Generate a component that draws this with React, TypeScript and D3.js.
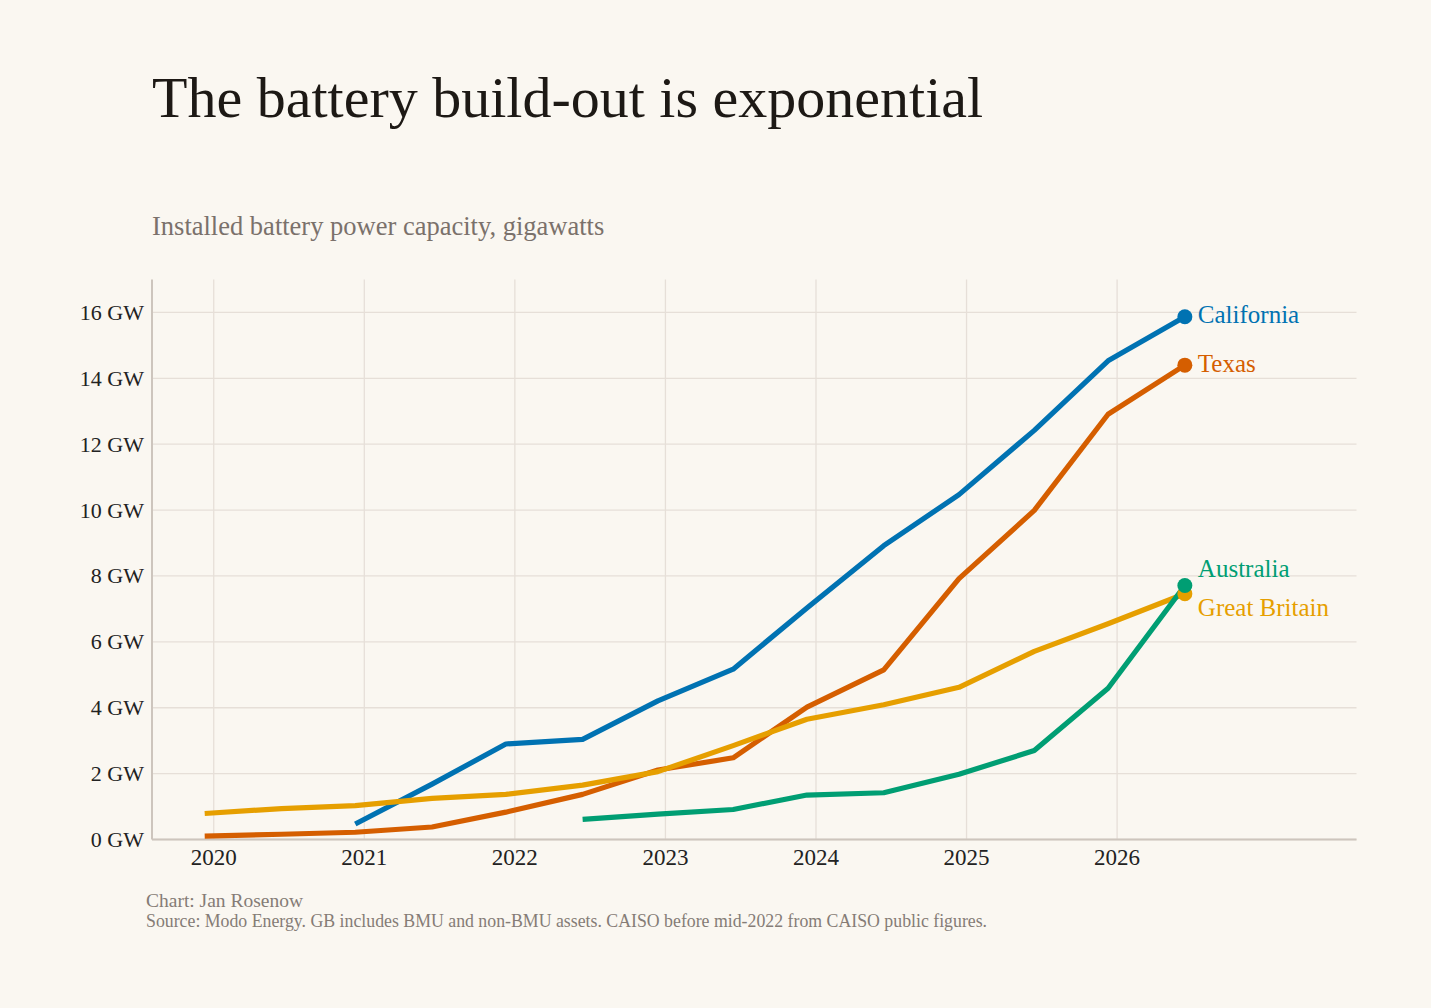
import React from "react";
import * as d3 from "d3";

// half-year observation points (fractional year)
const periods = [
  2019.94, 2020.45, 2020.94, 2021.45, 2021.94, 2022.45, 2022.95,
  2023.45, 2023.94, 2024.45, 2024.95, 2025.45, 2025.94, 2026.45,
];

// installed battery power, GW (null = no data)
const california = [null, null, 0.47, 1.68, 2.9, 3.04, 4.21, 5.17, 7.03, 8.92, 10.47, 12.42, 14.53, 15.87];
const texas = [0.1, 0.16, 0.22, 0.38, 0.83, 1.37, 2.11, 2.48, 4.02, 5.15, 7.92, 9.99, 12.91, 14.4];
const greatBritain = [0.79, 0.94, 1.03, 1.25, 1.37, 1.65, 2.06, 2.85, 3.65, 4.09, 4.62, 5.71, 6.55, 7.46];
const australia = [null, null, null, null, null, 0.61, 0.77, 0.91, 1.35, 1.42, 1.98, 2.7, 4.59, 7.71];

const seriesNames = ["California", "Texas", "Great Britain", "Australia"];
const seriesValues = [california, texas, greatBritain, australia];
const seriesColors = ["#0072b2", "#d55e00", "#e69f00", "#009e73"];
const labelOffsets = [6, 7, 22, -9];

const yTicks = [0, 2, 4, 6, 8, 10, 12, 14, 16];
const xTicks = [2020, 2021, 2022, 2023, 2024, 2025, 2026];

const W = 1431;
const H = 1008;
const FONT = "'Liberation Serif', 'DejaVu Serif', serif";

export default function App() {
  React.useEffect(() => {
    document.body.style.margin = "0";
    document.body.style.background = "#faf7f1";
  }, []);

  const margin = { left: 152, right: 1356.5, top: 279.5, bottom: 839.5 };

  const x = d3.scaleLinear().domain([2019.59, 2027.59]).range([margin.left, margin.right]);
  const y = d3.scaleLinear().domain([0, 17]).range([margin.bottom, margin.top]);

  const line = d3
    .line<[number, number | null]>()
    .defined((d) => d[1] != null)
    .x((d) => x(d[0]))
    .y((d) => y(d[1] as number));

  return (
    <svg width={W} height={H} style={{ display: "block", background: "#faf7f1", fontFamily: FONT }}>
      <rect width={W} height={H} fill="#faf7f1" />

      {/* title block */}
      <text x={152} y={117} fontSize={58} fill="#1d1915">
        The battery build-out is exponential
      </text>
      <text x={152} y={235} fontSize={26.5} fill="#7a716b">
        Installed battery power capacity, gigawatts
      </text>

      {/* grid */}
      {xTicks.map((t) => (
        <line key={"gx" + t} x1={x(t)} x2={x(t)} y1={margin.top} y2={margin.bottom} stroke="#e6dfd8" strokeWidth={1.3} />
      ))}
      {yTicks.map((t) => (
        <line key={"gy" + t} x1={margin.left} x2={margin.right} y1={y(t)} y2={y(t)} stroke="#e6dfd8" strokeWidth={1.3} />
      ))}

      {/* axes */}
      <line x1={margin.left} x2={margin.left} y1={margin.top} y2={margin.bottom} stroke="#cdc5bd" strokeWidth={2} />
      <line x1={margin.left} x2={margin.right} y1={margin.bottom} y2={margin.bottom} stroke="#cdc5bd" strokeWidth={2} />

      {yTicks.map((t) => (
        <text key={"ty" + t} x={144} y={y(t)} dy="0.34em" textAnchor="end" fontSize={22} fill="#222">
          {`${t} GW`}
        </text>
      ))}
      {xTicks.map((t) => (
        <text key={"tx" + t} x={x(t)} y={865} textAnchor="middle" fontSize={23} fill="#222">
          {t}
        </text>
      ))}

      {/* series */}
      {seriesValues.map((vals, i) => {
        const pts = periods.map((p, j) => [p, vals[j]] as [number, number | null]);
        return (
          <path
            key={seriesNames[i]}
            d={line(pts) || ""}
            fill="none"
            stroke={seriesColors[i]}
            strokeWidth={5.2}
            strokeLinejoin="round"
          />
        );
      })}

      {/* end dots + labels */}
      {seriesValues.map((vals, i) => {
        const last = vals.length - 1;
        const cx = x(periods[last]);
        const cy = y(vals[last] as number);
        return (
          <g key={"end" + i}>
            <circle cx={cx} cy={cy} r={7.5} fill={seriesColors[i]} />
            <text x={cx + 13} y={cy + labelOffsets[i]} fontSize={25} fill={seriesColors[i]}>
              {seriesNames[i]}
            </text>
          </g>
        );
      })}

      {/* footer */}
      <text x={146} y={907} fontSize={19.5} fill="#857c76">
        Chart: Jan Rosenow
      </text>
      <text x={146} y={927} fontSize={17.8} fill="#857c76">
        Source: Modo Energy. GB includes BMU and non-BMU assets. CAISO before mid-2022 from CAISO public figures.
      </text>
    </svg>
  );
}
